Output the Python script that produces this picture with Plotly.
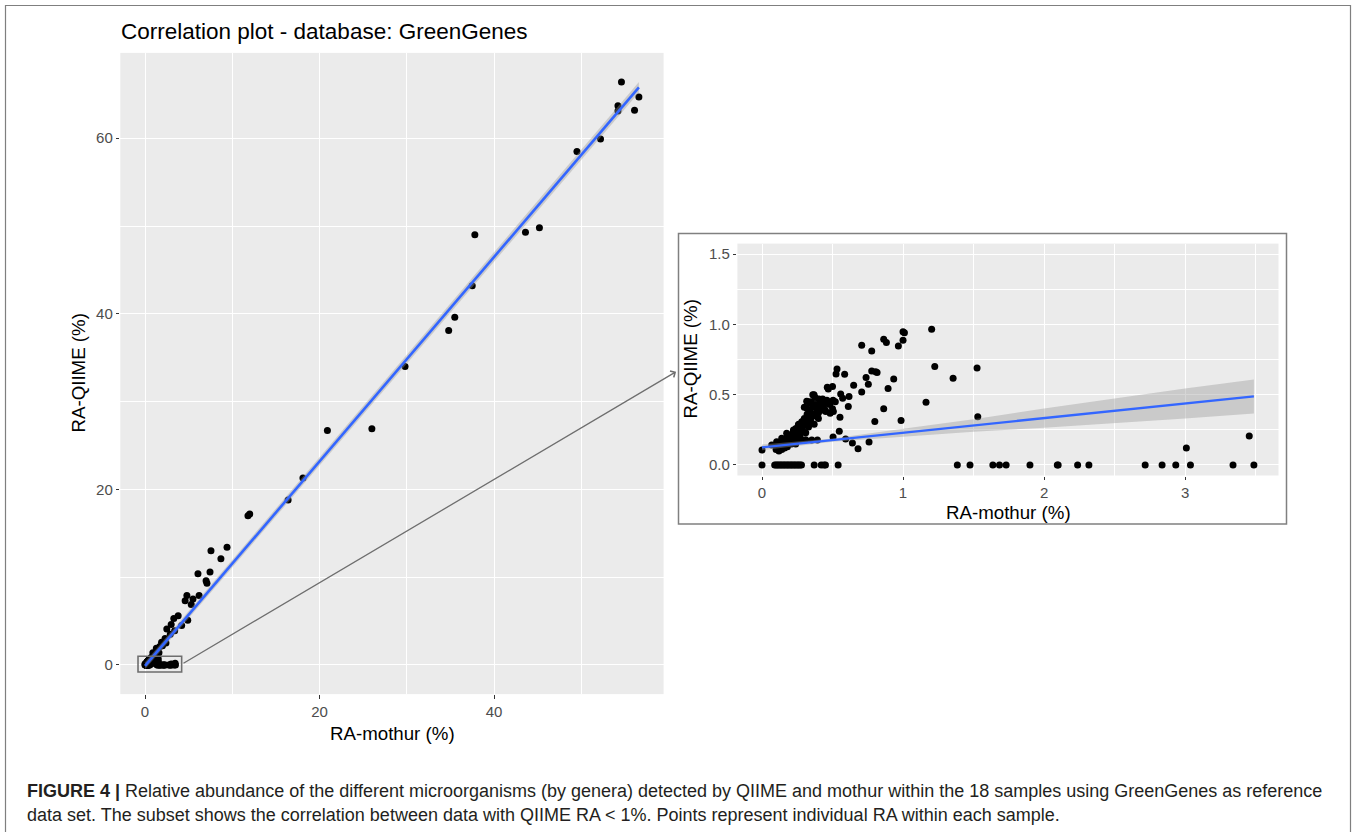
import plotly.graph_objects as go

W, H = 1357, 832

# ---------------- data ----------------
# points with QIIME RA >= 1% (only in the main panel)
big_x = [54.6, 54.2, 54.2, 56.1, 56.6, 52.2, 49.5, 45.2, 43.6, 37.8, 37.5, 35.5, 34.8,
         29.8, 26.0, 20.9, 18.1, 16.4, 12.0, 11.8, 9.4, 7.56, 8.7, 6.07, 7.45, 7.0, 7.1,
         4.8, 4.6, 5.3, 5.5, 6.2, 3.8, 3.3, 4.9, 4.2, 3.0, 2.5, 3.4, 2.9, 2.3, 1.9, 2.4,
         1.7, 1.4, 0.9, 1.6, 1.1, 1.3, 2.0]
big_y = [66.4, 63.7, 63.1, 63.2, 64.7, 59.9, 58.5, 49.8, 49.3, 49.0, 43.2, 39.6, 38.1,
         34.0, 26.9, 26.7, 21.3, 18.8, 17.2, 17.0, 13.4, 13.0, 12.1, 10.4, 10.6, 9.6, 9.3,
         7.9, 7.3, 6.9, 7.5, 7.9, 5.6, 5.3, 5.1, 4.5, 4.6, 4.1, 3.9, 3.5, 3.0, 2.6, 2.5,
         2.1, 1.6, 1.4, 1.4, 1.2, 1.9, 2.2]

# subset with QIIME RA < 1% (inset, and also in main panel)
sub_x = [0, 0.09, 0.10, 0.11, 0.12, 0.13, 0.14, 0.15, 0.16, 0.17, 0.18, 0.19, 0.20, 0.21,
         0.22, 0.23, 0.24, 0.25, 0.26, 0.27, 0.28, 0.37, 0.42, 0.44, 0.45, 0.54, 1.385,
         1.475, 1.637, 1.684, 1.731, 1.90, 2.094, 2.10, 2.238, 2.318, 2.717, 2.837, 2.934,
         3.038, 3.34, 3.488,
         0, 3.009, 3.455, 1.203, 1.0, 1.01, 1.0, 0.967, 0.863, 0.882, 0.707, 0.778, 1.225,
         1.525, 1.355, 0.778, 0.806, 0.816, 0.738, 0.934, 0.754, 0.894, 0.65, 0.707, 1.163,
         0.863, 0.80, 0.986, 1.53, 0.586, 0.532, 0.525, 0.463, 0.47, 0.50, 0.558, 0.572,
         0.617, 0.612, 0.553, 0.548, 0.504, 0.593, 0.641, 0.681, 0.759, 0.369, 0.317, 0.404,
         0.504, 0.452, 0.506, 0.423, 0.36, 0.377, 0.341, 0.412, 0.436, 0.448, 0.483, 0.389,
         0.341, 0.318, 0.282, 0.258, 0.223, 0.175, 0.14, 0.104, 0.069, 0.353, 0.393, 0.31,
         0.239,
         0.10, 0.12, 0.14, 0.16, 0.18, 0.12, 0.15, 0.20, 0.25, 0.28, 0.13, 0.16, 0.18, 0.19,
         0.20, 0.21, 0.22, 0.23, 0.24, 0.25, 0.26, 0.27, 0.28, 0.29, 0.30, 0.30, 0.31, 0.32,
         0.33, 0.34, 0.35, 0.36, 0.37, 0.38, 0.39, 0.40, 0.41, 0.42, 0.43, 0.44, 0.46, 0.27,
         0.29, 0.33, 0.35, 0.37, 0.40, 0.21, 0.25, 0.31, 0.33, 0.30, 0.35, 0.48, 0.52, 0.50]
sub_y = [0] * 42 + [
         0.106, 0.12, 0.206, 0.965, 0.948, 0.94, 0.887, 0.846, 0.894, 0.872, 0.851, 0.811,
         0.70, 0.69, 0.617, 0.669, 0.664, 0.657, 0.622, 0.612, 0.574, 0.544, 0.567, 0.52,
         0.447, 0.40, 0.31, 0.317, 0.343, 0.645, 0.683, 0.648, 0.553, 0.541, 0.558, 0.504,
         0.475, 0.487, 0.416, 0.34, 0.239, 0.199, 0.184, 0.156, 0.116, 0.163, 0.499, 0.454,
         0.47, 0.461, 0.38, 0.38, 0.416, 0.50, 0.48, 0.44, 0.44, 0.45, 0.391, 0.368, 0.344,
         0.308, 0.403, 0.308, 0.284, 0.249, 0.225, 0.19, 0.166, 0.142, 0.178, 0.178, 0.18,
         0.149,
         0.11, 0.10, 0.11, 0.12, 0.13, 0.15, 0.16, 0.17, 0.18, 0.18, 0.14, 0.18, 0.20, 0.16,
         0.21, 0.19, 0.23, 0.20, 0.26, 0.24, 0.29, 0.25, 0.27, 0.31, 0.28, 0.33, 0.30, 0.36,
         0.32, 0.38, 0.34, 0.41, 0.36, 0.43, 0.39, 0.37, 0.42, 0.39, 0.47, 0.43, 0.46, 0.21,
         0.24, 0.27, 0.30, 0.29, 0.33, 0.15, 0.21, 0.23, 0.45, 0.41, 0.45, 0.43, 0.45, 0.40]

# linear fits (geom_smooth, method = lm)
main_fit_x = [0.0, 56.6]
main_fit_y = [-0.1, 65.8]
main_ci_lo = [-0.5, 65.2]
main_ci_hi = [0.3, 66.4]

sub_fit_x = [0.0, 0.5, 1.0, 1.5, 2.0, 2.5, 3.0, 3.488]
sub_fit_y = [0.125, 0.177, 0.229, 0.281, 0.333, 0.385, 0.437, 0.488]
sub_ci_lo = [0.105, 0.165, 0.201, 0.236, 0.265, 0.295, 0.330, 0.366]
sub_ci_hi = [0.145, 0.189, 0.257, 0.326, 0.401, 0.475, 0.544, 0.608]

main_ticks = [0, 20, 40, 60]
sub_xticks = [0, 1, 2, 3]
sub_yticks = [0.0, 0.5, 1.0, 1.5]
sub_ylim = [0.0, 1.5]

zoom_box = dict(x0=-0.8, x1=4.2, y0=-0.8, y1=1.0)   # subset box in main panel
arrow_tail = (4.24, 0.1)                             # main-panel data coords
arrow_head = (60.86, 33.4)

title_text = "Correlation plot - database: GreenGenes"
xlab = "RA-mothur (%)"
ylab = "RA-QIIME (%)"
caption1 = ("<b>FIGURE 4 |</b> Relative abundance of the different microorganisms (by genera) "
            "detected by QIIME and mothur within the 18 samples using GreenGenes as reference")
caption2 = ("data set. The subset shows the correlation between data with QIIME RA &lt; 1%. "
            "Points represent individual RA within each sample.")

# ---------------- helpers ----------------
def expand(lo, hi, f=0.05):
    d = (hi - lo) * f
    return [lo - d, hi + d]

def px_dom(a, b):
    return [a / W, b / W]

def py_dom(top, bottom):
    return [1 - bottom / H, 1 - top / H]

FONT = "Liberation Sans, Arial, sans-serif"
BLUE = "#3366FF"
PANEL = "#EBEBEB"

all_x = big_x + sub_x
all_y = big_y + sub_y

fig = go.Figure()

# main panel
fig.add_trace(go.Scatter(x=all_x, y=all_y, mode="markers",
                         marker=dict(color="black", size=7, line=dict(width=0)),
                         xaxis="x", yaxis="y", hoverinfo="skip"))
fig.add_trace(go.Scatter(x=main_fit_x + main_fit_x[::-1], y=main_ci_hi + main_ci_lo[::-1],
                         fill="toself", fillcolor="rgba(153,153,153,0.4)",
                         line=dict(width=0), mode="lines", xaxis="x", yaxis="y",
                         hoverinfo="skip"))
fig.add_trace(go.Scatter(x=main_fit_x, y=main_fit_y, mode="lines",
                         line=dict(color=BLUE, width=2.6), xaxis="x", yaxis="y",
                         hoverinfo="skip"))

# inset panel
fig.add_trace(go.Scatter(x=sub_x, y=sub_y, mode="markers",
                         marker=dict(color="black", size=7, line=dict(width=0)),
                         xaxis="x2", yaxis="y2", hoverinfo="skip"))
fig.add_trace(go.Scatter(x=sub_fit_x + sub_fit_x[::-1], y=sub_ci_hi + sub_ci_lo[::-1],
                         fill="toself", fillcolor="rgba(153,153,153,0.4)",
                         line=dict(width=0), mode="lines", xaxis="x2", yaxis="y2",
                         hoverinfo="skip"))
fig.add_trace(go.Scatter(x=sub_fit_x, y=sub_fit_y, mode="lines",
                         line=dict(color=BLUE, width=2.4), xaxis="x2", yaxis="y2",
                         hoverinfo="skip"))

tickfont = dict(family=FONT, size=15, color="#4D4D4D")
axis_common = dict(showgrid=True, gridcolor="white", gridwidth=1.2, zeroline=False,
                   showline=False, ticks="outside", ticklen=3.5, tickwidth=1.1,
                   tickcolor="#333333", tickfont=tickfont)

main_xr = expand(min(all_x), max(all_x))
main_yr = expand(min(all_y), max(all_y))
sub_xr = expand(min(sub_x), max(sub_x))
sub_yr = expand(*sub_ylim)

fig.update_layout(
    width=W, height=H, autosize=False,
    margin=dict(l=0, r=0, t=0, b=0),
    paper_bgcolor="white", plot_bgcolor=PANEL,
    showlegend=False,
    font=dict(family=FONT),
    xaxis=dict(domain=px_dom(120.3, 663.6), range=main_xr, tickvals=main_ticks,
               ticktext=[str(v) for v in main_ticks],
               minor=dict(dtick=10, tick0=0, showgrid=True, gridcolor="white", gridwidth=0.6),
               anchor="y", **axis_common),
    yaxis=dict(domain=py_dom(52.9, 694.1), range=main_yr, tickvals=main_ticks,
               ticktext=[str(v) for v in main_ticks],
               minor=dict(dtick=10, tick0=0, showgrid=True, gridcolor="white", gridwidth=0.6),
               anchor="x", **axis_common),
    xaxis2=dict(domain=px_dom(737.4, 1278.5), range=sub_xr, tickvals=sub_xticks,
                ticktext=[str(v) for v in sub_xticks],
                minor=dict(dtick=0.5, tick0=0, showgrid=True, gridcolor="white", gridwidth=0.6),
                anchor="y2", **axis_common),
    yaxis2=dict(domain=py_dom(243.6, 475.5), range=sub_yr, tickvals=sub_yticks,
                ticktext=["%.1f" % v for v in sub_yticks],
                minor=dict(dtick=0.25, tick0=0, showgrid=True, gridcolor="white", gridwidth=0.6),
                anchor="x2", **axis_common),
)

shapes = [
    # outer figure frame
    dict(type="rect", xref="paper", yref="paper", x0=5.5 / W, x1=1350.5 / W,
         y0=-0.1, y1=1 - 5.5 / H, line=dict(color="#7F7F7F", width=1.2),
         fillcolor="rgba(0,0,0,0)", layer="above"),
    # inset frame
    dict(type="rect", xref="paper", yref="paper", x0=678.5 / W, x1=1286.5 / W,
         y0=1 - 524 / H, y1=1 - 233.5 / H, line=dict(color="#808080", width=1.5),
         fillcolor="rgba(0,0,0,0)", layer="above"),
    # zoom box in main panel
    dict(type="rect", xref="x", yref="y", **zoom_box,
         line=dict(color="#6E6E6E", width=1.6), fillcolor="rgba(0,0,0,0)", layer="above"),
]

annotations = [
    dict(xref="x", yref="y", x=arrow_head[0], y=arrow_head[1], axref="x", ayref="y",
         ax=arrow_tail[0], ay=arrow_tail[1], text="", showarrow=True, arrowhead=4,
         arrowsize=1.1, arrowwidth=1.3, arrowcolor="#6E6E6E", standoff=0, startstandoff=0),
    dict(xref="paper", yref="paper", x=119 / W, y=1 - 32 / H, xanchor="left", yanchor="middle",
         text=title_text, showarrow=False, font=dict(family=FONT, size=22.5, color="black")),
    # main axis titles
    dict(xref="paper", yref="paper", x=392 / W, y=1 - 733 / H, xanchor="center",
         yanchor="middle", text=xlab, showarrow=False,
         font=dict(family=FONT, size=18.7, color="black")),
    dict(xref="paper", yref="paper", x=78 / W, y=1 - 373.5 / H, xanchor="center",
         yanchor="middle", text=ylab, textangle=-90, showarrow=False,
         font=dict(family=FONT, size=18.7, color="black")),
    # inset axis titles
    dict(xref="paper", yref="paper", x=1008 / W, y=1 - 512 / H, xanchor="center",
         yanchor="middle", text=xlab, showarrow=False,
         font=dict(family=FONT, size=18.7, color="black")),
    dict(xref="paper", yref="paper", x=690 / W, y=1 - 359.5 / H, xanchor="center",
         yanchor="middle", text=ylab, textangle=-90, showarrow=False,
         font=dict(family=FONT, size=18.7, color="black")),
    # caption
    dict(xref="paper", yref="paper", x=25 / W, y=1 - 791 / H, xanchor="left",
         yanchor="middle", text=caption1, showarrow=False,
         font=dict(family=FONT, size=18, color="#231F20")),
    dict(xref="paper", yref="paper", x=25 / W, y=1 - 815 / H, xanchor="left",
         yanchor="middle", text=caption2, showarrow=False,
         font=dict(family=FONT, size=18, color="#231F20")),
]

fig.update_layout(shapes=shapes, annotations=annotations)

fig.write_html("out.html")
